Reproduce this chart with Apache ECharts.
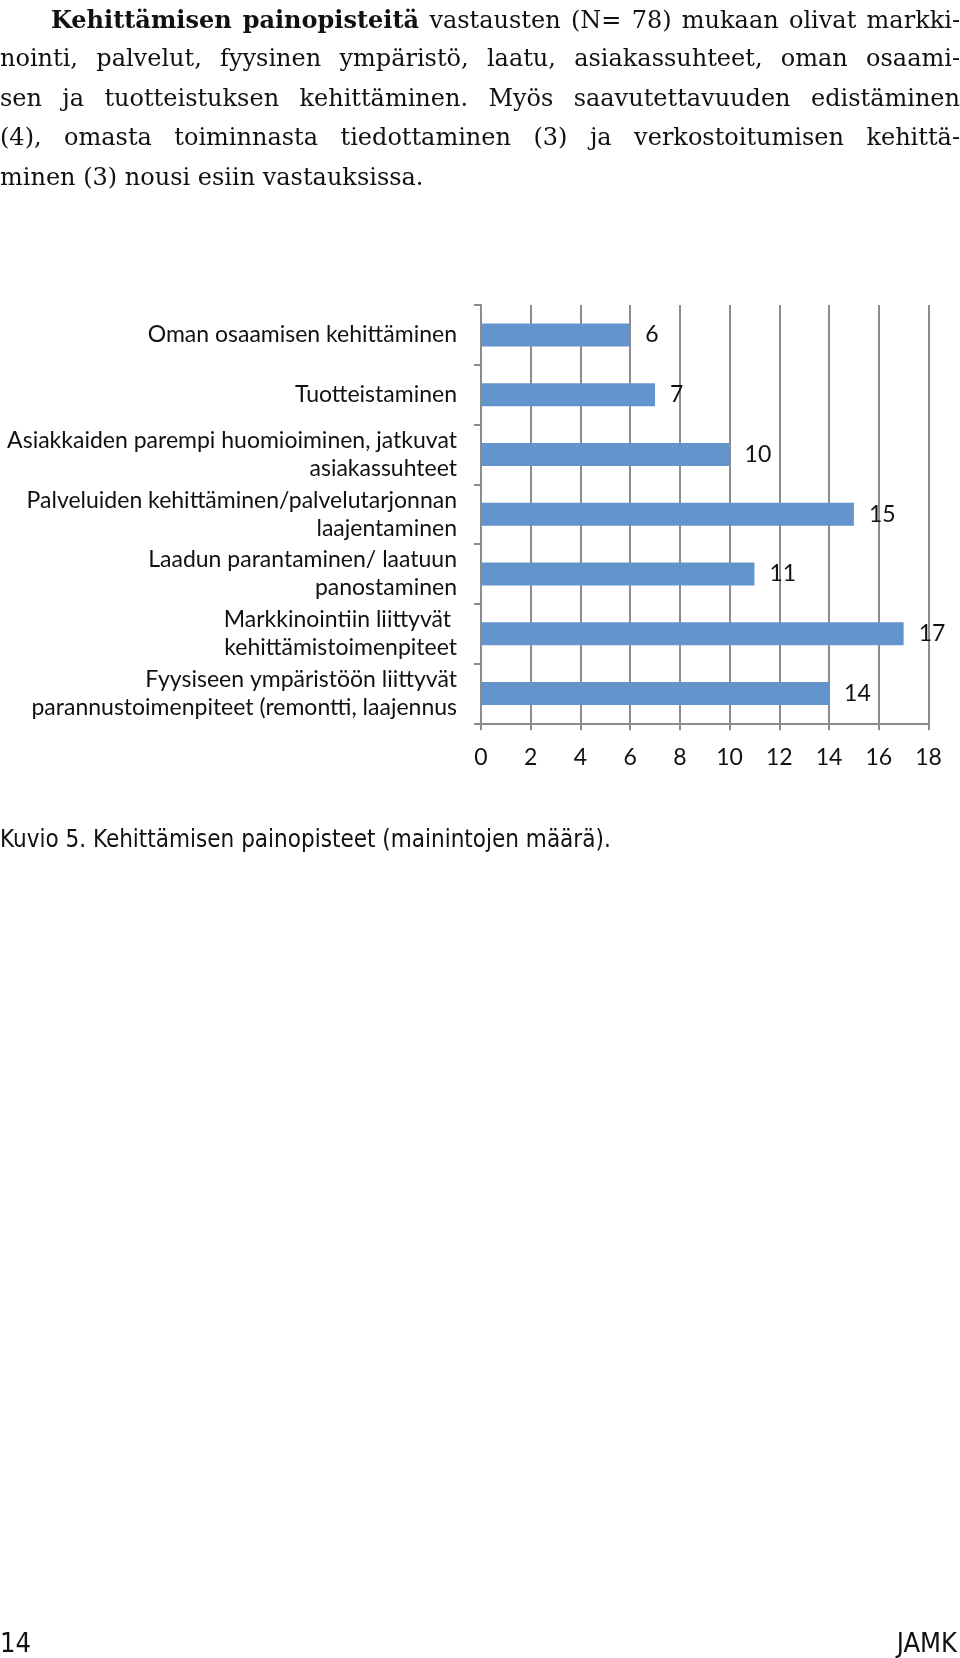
<!DOCTYPE html>
<html>
<head>
<meta charset="utf-8">
<script src="https://cdn.jsdelivr.net/npm/echarts@6/dist/echarts.min.js"></script>
<style>
  html, body { margin: 0; padding: 0; background: #fff; }
  body { width: 960px; height: 1658px; position: relative; overflow: hidden; }
  #para { position: absolute; left: 0; top: 0; width: 960px; font-family: "DejaVu Serif", "Liberation Serif", serif; font-size: 24px; line-height: 39.4px; color: #111; }
  #para .l { display: block; text-align: justify; text-align-last: justify; white-space: nowrap; height: 39.4px; }
  #para .last { text-align: left; text-align-last: left; }
  #para .l1 { padding-left: 51px; }
  #chart { position: absolute; left: 0; top: 0; width: 960px; height: 1658px; }
  #caption { position: absolute; left: 0; top: 825px; font-family: "DejaVu Sans Condensed", "DejaVu Sans", sans-serif; font-stretch: condensed; font-size: 24px; color: #111; white-space: nowrap; }
  .foot { position: absolute; top: 1627px; font-family: "DejaVu Sans Condensed", "DejaVu Sans", sans-serif; font-stretch: condensed; font-size: 27px; color: #111; }
</style>
</head>
<body>
<div id="chart"></div>
<div id="para">
  <span class="l l1"><b>Kehittämisen painopisteitä</b> vastausten (N= 78) mukaan olivat markki-</span>
  <span class="l">nointi, palvelut, fyysinen ympäristö, laatu, asiakassuhteet, oman osaami-</span>
  <span class="l">sen ja tuotteistuksen kehittäminen. Myös saavutettavuuden edistäminen</span>
  <span class="l">(4), omasta toiminnasta tiedottaminen (3) ja verkostoitumisen kehittä-</span>
  <span class="l last">minen (3) nousi esiin vastauksissa.</span>
</div>
<div id="caption">Kuvio 5. Kehittämisen painopisteet (mainintojen määrä).</div>
<div class="foot" style="left:0;">14</div>
<div class="foot" style="right:3px;">JAMK</div>
<script>
const categories = [
  "Oman osaamisen kehittäminen",
  "Tuotteistaminen",
  "Asiakkaiden parempi huomioiminen, jatkuvat\nasiakassuhteet",
  "Palveluiden kehittäminen/palvelutarjonnan\nlaajentaminen",
  "Laadun parantaminen/ laatuun\npanostaminen",
  "Markkinointiin liittyvät \nkehittämistoimenpiteet",
  "Fyysiseen ympäristöön liittyvät\nparannustoimenpiteet (remontti, laajennus"
];
const values = [6, 7, 10, 15, 11, 17, 14];
const xTicks = [0, 2, 4, 6, 8, 10, 12, 14, 16, 18];

const chart = echarts.init(document.getElementById('chart'), null, { renderer: 'canvas' });
const font = 'Lato, "Open Sans", sans-serif';
const gray = '#8c8c8c';
chart.setOption({
  animation: false,
  grid: { left: 481, top: 305, right: 31.5, bottom: 934.7, containLabel: false },
  xAxis: {
    type: 'value', min: xTicks[0], max: xTicks[xTicks.length - 1], interval: 2,
    axisLine: { show: true, lineStyle: { color: gray, width: 2 } },
    axisTick: { show: true, length: 7, lineStyle: { color: gray, width: 2 } },
    splitLine: { show: true, lineStyle: { color: gray, width: 2 } },
    axisLabel: { margin: 23, fontFamily: font, fontSize: 23, color: '#111' }
  },
  yAxis: {
    type: 'category', data: categories, inverse: true,
    axisLine: { show: true, lineStyle: { color: gray, width: 2 } },
    axisTick: { show: true, length: 7, inside: false, lineStyle: { color: gray, width: 2 } },
    axisLabel: { interval: 0, hideOverlap: false, margin: 24, fontFamily: font, fontSize: 23, lineHeight: 28, color: '#111', align: 'right', padding: [7, 0, 0, 0] }
  },
  series: [{
    type: 'bar', data: values, barWidth: 23,
    itemStyle: { color: '#6494cc' },
    label: { show: true, position: 'right', distance: 15, fontFamily: font, fontSize: 23, color: '#111', padding: [7, 0, 0, 0] }
  }]
});
</script>
</body>
</html>
